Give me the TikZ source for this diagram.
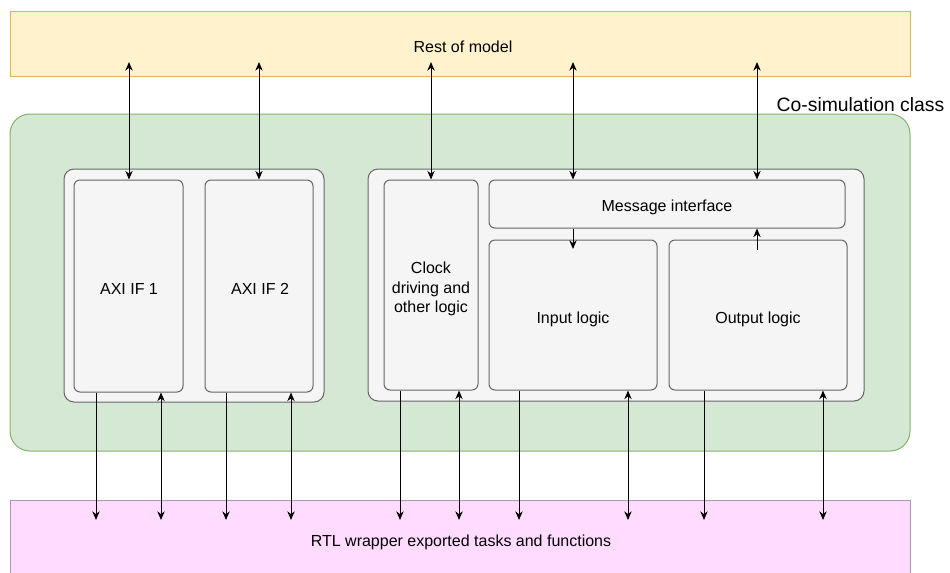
\documentclass[tikz,border=0pt]{standalone}
\usepackage{fontspec}
\setmainfont{Liberation Sans}
\usetikzlibrary{arrows.meta,fit}

\begin{document}
\begin{tikzpicture}[x=0.75pt,y=0.75pt,yscale=-1,xscale=1,
  font=\fontsize{12}{14.5}\selectfont,
  >={Stealth[length=6.5pt,width=5.5pt]},
  outer/.style={draw, inner sep=0pt, line width=0.75pt},
  grp/.style={draw={rgb, 255:red, 102; green, 102; blue, 102 }, fill={rgb, 255:red, 245; green, 245; blue, 245 }, rounded corners=7.5pt, inner sep=0pt, line width=0.75pt},
  blk/.style={draw={rgb, 255:red, 102; green, 102; blue, 102 }, fill={rgb, 255:red, 245; green, 245; blue, 245 }, rounded corners=4.5pt, inner sep=0pt, line width=0.75pt, align=center},
  link/.style={line width=0.75pt}]
\useasboundingbox (0,0) rectangle (950,572);

%Shape: Rectangle [rest of model]
\node (rest) [outer, draw={rgb, 255:red, 214; green, 182; blue, 86 }, fill={rgb, 255:red, 255; green, 242; blue, 204 }, fit={(10,11) (910,76)}] {};
\node (restlbl) at (463,47) {Rest of model};
%Shape: Rectangle [co-simulation class]
\node (cosim) [outer, draw={rgb, 255:red, 130; green, 179; blue, 102 }, fill={rgb, 255:red, 213; green, 232; blue, 212 }, rounded corners=15pt, fit={(10,114) (910,451)}] {};
\node (cosimlbl) [anchor=east, font=\fontsize{14.5}{17}\selectfont] at (949,105) {Co-simulation class};
%Shape: Rectangle [rtl wrapper]
\node (rtl) [outer, draw={rgb, 255:red, 170; green, 150; blue, 175 }, fill={rgb, 255:red, 255; green, 220; blue, 255 }, fit={(10,500) (910,582)}] {};
\node (rtllbl) at (461,542) {RTL wrapper exported tasks and functions};

%Shape: Rectangle [groups]
\node (leftgrp) [grp, fit={(64,169) (324,402)}] {};
\node (rightgrp) [grp, fit={(368,169) (864,401)}] {};

%Shape: Rectangle [blocks]
\node (axi1) [blk, fit={(74,180) (183,392)}] {};
\node (axi1lbl) at (129,289) {AXI IF 1};
\node (axi2) [blk, fit={(205,180) (313,392)}] {};
\node (axi2lbl) at (260,289) {AXI IF 2};
\node (clock) [blk, fit={(384,180) (478,390)}] {};
\node (clocklbl) [align=center] at (431,289) {Clock\\driving and\\other logic};
\node (msg) [blk, fit={(489,180) (845,228)}] {};
\node (msglbl) at (667,207) {Message interface};
\node (input) [blk, fit={(489,240) (657,390)}] {};
\node (inputlbl) at (573,319) {Input logic};
\node (output) [blk, fit={(669,240) (847,390)}] {};
\node (outputlbl) at (758,319) {Output logic};

% free ends
\coordinate (t1) at (129,62);
\coordinate (t2) at (259,62);
\coordinate (t3) at (431,62);
\coordinate (t4) at (573,62);
\coordinate (t5) at (757,62);
\coordinate (m1) at (573,249);
\coordinate (m2) at (757,250);
\coordinate (b1) at (96,520);
\coordinate (b2) at (161,520);
\coordinate (b3) at (226,520);
\coordinate (b4) at (291,520);
\coordinate (b5) at (400,520);
\coordinate (b6) at (459,520);
\coordinate (b7) at (519,520);
\coordinate (b8) at (628,520);
\coordinate (b9) at (704,520);
\coordinate (b10) at (823,520);

%Straight Lines [rest of model]
\draw [link, <->] (t1) -- (t1 |- axi1.north);
\draw [link, <->] (t2) -- (t2 |- axi2.north);
\draw [link, <->] (t3) -- (t3 |- clock.north);
\draw [link, <->] (t4) -- (t4 |- msg.north);
\draw [link, <->] (t5) -- (t5 |- msg.north);
%Straight Lines [message interface]
\draw [link, ->] (m1 |- msg.south) -- (m1);
\draw [link, ->] (m2) -- (m2 |- msg.south);
%Straight Lines [rtl wrapper]
\draw [link, ->] (b1 |- axi1.south) -- (b1);
\draw [link, <->] (b2 |- axi1.south) -- (b2);
\draw [link, ->] (b3 |- axi2.south) -- (b3);
\draw [link, <->] (b4 |- axi2.south) -- (b4);
\draw [link, ->] (b5 |- clock.south) -- (b5);
\draw [link, <->] (b6 |- clock.south) -- (b6);
\draw [link, ->] (b7 |- input.south) -- (b7);
\draw [link, <->] (b8 |- input.south) -- (b8);
\draw [link, ->] (b9 |- output.south) -- (b9);
\draw [link, <->] (b10 |- output.south) -- (b10);

\end{tikzpicture}
\end{document}
